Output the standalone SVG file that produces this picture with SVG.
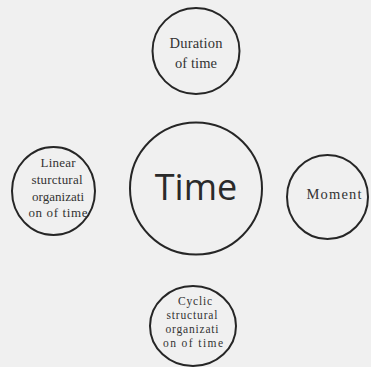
<svg xmlns="http://www.w3.org/2000/svg" width="371" height="367" viewBox="0 0 371 367">
<style>
.c{fill:none;stroke:#262626;stroke-width:2}
.s{font-family:"Liberation Serif","DejaVu Serif",serif;font-size:13px;fill:#333;text-anchor:middle}
.m{font-size:14.5px}
.b{font-size:11.5px}
.t{font-family:"Open Sans","Liberation Sans",sans-serif;font-size:36px;fill:#2a2a2a;text-anchor:middle}
</style>
<rect width="371" height="367" fill="#f0f0f0"/>
<g id="connectors"></g>
<g id="time">
<circle class="c" cx="196" cy="188.5" r="66"/>
<text class="t" x="196" y="200">Time</text>
</g>
<g id="duration">
<ellipse class="c" cx="196" cy="51" rx="43.5" ry="43"/>
<text class="s m" x="196" y="48" textLength="53" lengthAdjust="spacing">Duration</text>
<text class="s m" x="196" y="68" textLength="42" lengthAdjust="spacing">of time</text>
</g>
<g id="linear">
<ellipse class="c" cx="53.5" cy="191" rx="41.5" ry="44"/>
<text class="s" x="58" y="167" textLength="35" lengthAdjust="spacing">Linear</text>
<text class="s" x="57" y="184" textLength="51" lengthAdjust="spacing">sturctural</text>
<text class="s" x="58" y="201" textLength="52" lengthAdjust="spacing">organizati</text>
<text class="s" x="58" y="217" textLength="59" lengthAdjust="spacing">on of time</text>
</g>
<g id="moment">
<ellipse class="c" cx="327.5" cy="197" rx="40.5" ry="42"/>
<text class="s m" x="334" y="199" textLength="55" lengthAdjust="spacing">Moment</text>
</g>
<g id="cyclic">
<ellipse class="c" cx="193" cy="326" rx="43" ry="40"/>
<text class="s b" x="195" y="305" textLength="34" lengthAdjust="spacing">Cyclic</text>
<text class="s b" x="192" y="319" textLength="51" lengthAdjust="spacing">structural</text>
<text class="s b" x="192" y="332.5" textLength="53" lengthAdjust="spacing">organizati</text>
<text class="s b" x="193" y="346.5" textLength="60" lengthAdjust="spacing">on of time</text>
</g>
</svg>
